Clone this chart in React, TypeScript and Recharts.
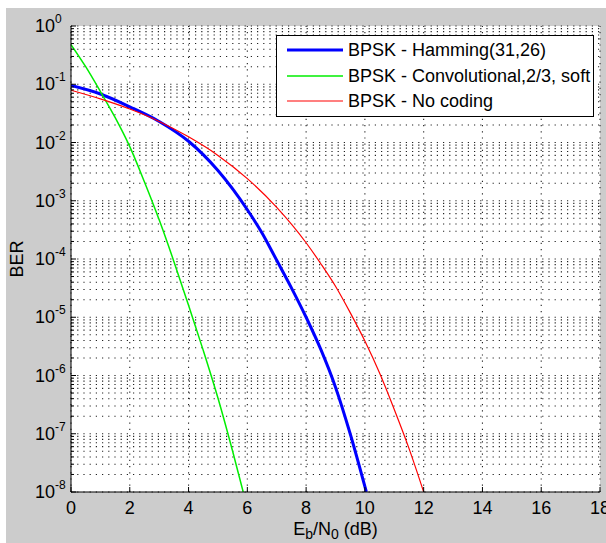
import React from "react";
import {
  LineChart,
  Line,
  XAxis,
  YAxis,
  ReferenceLine,
  ReferenceArea,
  Legend,
} from "recharts";

const FONT = '"Liberation Sans", Arial, Helvetica, sans-serif';

// ---- data ----
const hammingX = [0, 1, 2, 3, 4, 5, 6, 6.5, 7, 7.5, 8, 8.5, 9, 9.5, 10.05];
const hammingBER = [0.095, 0.068, 0.041, 0.023, 0.0105, 0.0033, 0.0007, 0.00028, 0.000095, 0.000032, 0.00001, 0.0000028, 0.00000063, 0.0000001, 0.00000001];

const convX = [0, 0.5, 1, 1.5, 2, 2.5, 3, 3.5, 4, 4.5, 5, 5.5, 5.86];
const convBER = [0.48, 0.2, 0.075, 0.027, 0.0085, 0.0021, 0.00047, 0.000091, 0.000016, 0.0000027, 0.00000041, 0.00000005, 0.00000001];

const uncodedX = [0, 1, 2, 3, 4, 5, 6, 7, 8, 8.5, 9, 9.5, 10, 10.5, 11, 11.5, 12];
const uncodedBER = [0.079, 0.056, 0.0375, 0.023, 0.0125, 0.006, 0.0024, 0.00077, 0.00019, 0.000083, 0.000034, 0.000012, 0.0000039, 0.0000011, 0.00000026, 0.000000056, 0.00000001];

const seriesNames = ["BPSK - Hamming(31,26)", "BPSK - Convolutional,2/3, soft", "BPSK - No coding"];
const seriesColors = ["#0000ff", "#00ee00", "#ff0000"];
const seriesWidths = [3, 1.5, 1.2];

const xTicks = [0, 2, 4, 6, 8, 10, 12, 14, 16, 18];
const yDecades = [1e-8, 1e-7, 1e-6, 1e-5, 1e-4, 1e-3, 1e-2, 1e-1, 1];
const minorMultipliers = [2, 3, 4, 5, 6, 7, 8, 9];

const zip = (xs: number[], ys: number[]) => xs.map((x, i) => ({ x, y: ys[i] }));
const seriesData = [zip(hammingX, hammingBER), zip(convX, convBER), zip(uncodedX, uncodedBER)];

const yMinor: number[] = [];
yDecades.slice(0, -1).forEach((d) => minorMultipliers.forEach((m) => yMinor.push(d * m)));
const yAllTicks = [...yDecades, ...yMinor].sort((a, b) => a - b);

const isDecade = (v: number) => Math.abs(Math.log10(v) - Math.round(Math.log10(v))) < 1e-6;

const YTick = (props: any) => {
  const { x, y, payload } = props;
  const v = payload.value as number;
  const major = isDecade(v);
  const exp = Math.round(Math.log10(v));
  return (
    <g>
      <line x1={x} x2={x + (major ? 5 : 3)} y1={y} y2={y} stroke="#000" strokeWidth={1} />
      {major && (
        <text x={x - 36} y={y + 6} fontSize={18} fontFamily={FONT} fill="#000" textAnchor="start">
          10
          <tspan dy={-9} fontSize={12}>{String(exp)}</tspan>
        </text>
      )}
    </g>
  );
};

const XTick = (props: any) => {
  const { x, y, payload } = props;
  return (
    <g>
      <line x1={x} x2={x} y1={y} y2={y - 5} stroke="#000" strokeWidth={1} />
      <text x={x} y={y + 22} fontSize={18} fontFamily={FONT} fill="#000" textAnchor="middle">
        {String(payload.value)}
      </text>
    </g>
  );
};

const XLabel = (props: any) => {
  const { viewBox } = props;
  const cx = viewBox.x + viewBox.width / 2;
  const y = viewBox.y + 43;
  return (
    <text x={cx} y={y} fontSize={18} fontFamily={FONT} fill="#000" textAnchor="middle">
      E<tspan dy={4} fontSize={14}>b</tspan>
      <tspan dy={-4}>/N</tspan>
      <tspan dy={4} fontSize={14}>0</tspan>
      <tspan dy={-4}> (dB)</tspan>
    </text>
  );
};

const YLabel = (props: any) => {
  const { viewBox } = props;
  const cy = viewBox.y + viewBox.height / 2;
  const x = viewBox.x + 17;
  return (
    <text x={x} y={cy} fontSize={18} fontFamily={FONT} fill="#000" textAnchor="middle" transform={`rotate(-90, ${x}, ${cy})`}>
      BER
    </text>
  );
};

const LegendBox = () => (
  <div
    style={{
      width: 318,
      height: 82,
      boxSizing: "border-box",
      border: "1px solid #000",
      background: "#fff",
      position: "relative",
      fontFamily: FONT,
      fontSize: 18,
      color: "#000",
    }}
  >
    {seriesNames.map((n, i) => (
      <div
        key={n}
        style={{ position: "absolute", left: 0, top: 14 + i * 25.5 - 12, height: 24, display: "flex", alignItems: "center", whiteSpace: "nowrap" }}
      >
        <svg width={66} height={24} style={{ display: "block" }}>
          <line x1={10} x2={66} y1={12} y2={12} stroke={seriesColors[i]} strokeWidth={seriesWidths[i]} />
        </svg>
        <span style={{ marginLeft: 5, lineHeight: "24px" }}>{n}</span>
      </div>
    ))}
  </div>
);

const gridStroke = "#222";
const gridDash = "1.2 5";

export default function App() {
  return (
    <div style={{ position: "absolute", left: 6, top: 8, width: 600, height: 535, background: "#cccccc" }}>
      <LineChart width={600} height={535} margin={{ top: 18, right: 6, bottom: 0, left: 0 }}>
        <ReferenceArea x1={0} x2={18} y1={1e-8} y2={1} fill="#ffffff" fillOpacity={1} stroke="none" ifOverflow="hidden" />
        {[...yDecades, ...yMinor].map((v) => (
          <ReferenceLine key={"h" + v} y={v} stroke={gridStroke} strokeDasharray={gridDash} strokeWidth={1.1} />
        ))}
        {xTicks.map((v) => (
          <ReferenceLine key={"v" + v} x={v} stroke={gridStroke} strokeDasharray={gridDash} strokeWidth={1.1} />
        ))}
        <XAxis
          type="number"
          dataKey="x"
          domain={[0, 18]}
          ticks={xTicks}
          interval={0}
          allowDataOverflow
          height={51}
          tickSize={0}
          tickMargin={0}
          tickLine={false}
          axisLine={{ stroke: "#000", strokeWidth: 1 }}
          tick={<XTick />}
          label={<XLabel />}
        />
        <YAxis
          type="number"
          dataKey="y"
          scale="log"
          domain={[1e-8, 1]}
          ticks={yAllTicks}
          interval={0}
          allowDataOverflow
          width={65}
          tickSize={0}
          tickMargin={0}
          tickLine={false}
          axisLine={{ stroke: "#000", strokeWidth: 1 }}
          tick={<YTick />}
          label={<YLabel />}
        />
        {seriesData.map((d, i) => (
          <Line
            key={seriesNames[i]}
            data={d}
            dataKey="y"
            name={seriesNames[i]}
            type="monotone"
            stroke={seriesColors[i]}
            strokeWidth={seriesWidths[i]}
            dot={false}
            activeDot={false}
            isAnimationActive={false}
          />
        ))}
        <Legend
          layout="vertical"
          align="center"
          verticalAlign="middle"
          content={<LegendBox />}
          wrapperStyle={{ left: 270, top: 27, width: 318, height: 82 }}
        />
      </LineChart>
    </div>
  );
}
